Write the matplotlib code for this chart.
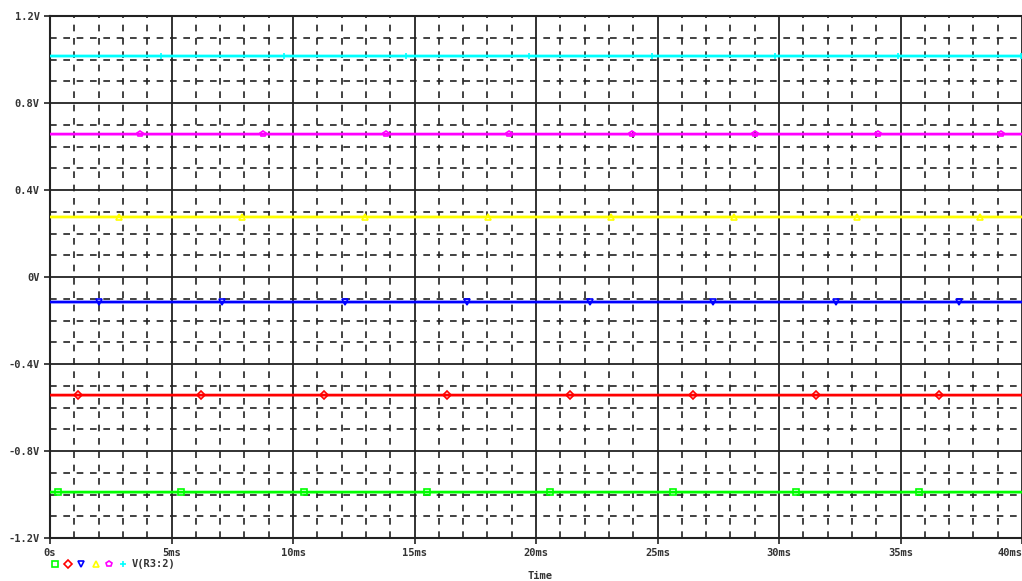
import matplotlib.pyplot as plt
import numpy as np
from matplotlib.ticker import MultipleLocator, FuncFormatter

# node voltages (V), constant over the run
colors = ['#00ff00', '#ff0000', '#0000ff', '#ffff00', '#ff00ff', '#00ffff']
markers = ['s', 'D', 'v', '^', 'p', '+']
levels = [-0.989, -0.543, -0.115, 0.276, 0.657, 1.016]
# first marker time (ms) for each trace, then every marker_step ms
marker_start = [0.33, 1.17, 2.0, 2.85, 3.7, 4.55]
marker_step = 5.06
t_end = 40

t_ms = np.linspace(0, t_end, 4001)

fig = plt.figure(figsize=(10.22, 5.81), dpi=100)
ax = fig.add_axes([50 / 1022, 43 / 581, 972 / 1022, 522 / 581])

for c, m, v, s in zip(colors, markers, levels, marker_start):
    ax.plot(t_ms, np.full_like(t_ms, v), color=c, lw=2, zorder=3)
    mt = np.arange(s, t_end, marker_step)
    ax.plot(mt, np.full_like(mt, v), ls='none', marker=m, ms=4, mfc='none',
            mec=c, mew=1.2, zorder=4)

ax.set_xlim(0, t_end)
ax.set_ylim(-1.2, 1.2)
ax.xaxis.set_major_locator(MultipleLocator(5))
ax.xaxis.set_minor_locator(MultipleLocator(1))
ax.yaxis.set_major_locator(MultipleLocator(0.4))
ax.yaxis.set_minor_locator(MultipleLocator(0.1))

def vfmt(v, pos):
    v = round(v, 1)
    if v == 0:
        return '0V'
    return '%.1fV' % v

def tfmt(v, pos):
    v = int(round(v))
    if v == 0:
        return '0s'
    if v == t_end:
        return ''  # drawn separately, right aligned
    return '%dms' % v

lab_font = dict(family='DejaVu Sans Mono', fontweight='bold', fontsize=7.5, color='#333333')

ax.yaxis.set_major_formatter(FuncFormatter(vfmt))
ax.xaxis.set_major_formatter(FuncFormatter(tfmt))
ax.tick_params(which='major', length=4, width=1.2, labelsize=7.5, color='#222222',
               labelcolor='#333333')
ax.tick_params(which='minor', length=0)
for lab in ax.get_xticklabels() + ax.get_yticklabels():
    lab.set_family('DejaVu Sans Mono')
    lab.set_fontweight('bold')
ax.text(1.0, -0.0199, '%dms' % t_end, transform=ax.transAxes, ha='right', va='top', **lab_font)

ax.grid(which='major', color='#222222', lw=1.3, ls='-', zorder=1)
ax.grid(which='minor', color='#222222', lw=1.2, ls=(0, (4, 4)), zorder=1)
for sp in ax.spines.values():
    sp.set_color('#222222')
    sp.set_linewidth(1.5)
ax.spines['right'].set_visible(False)

fig.text(540 / 1022, 1 - 576 / 581, 'Time', ha='center', va='center', **lab_font)

# legend row under the axis
lx = [55, 68, 81, 96, 109, 123]
for x, c, m in zip(lx, colors, markers):
    fig.lines.append(plt.Line2D([x / 1022], [1 - 564 / 581], transform=fig.transFigure,
                                ls='none', marker=m, ms=4, mfc='none', mec=c, mew=1.2))
fig.text(132 / 1022, 1 - 564 / 581, 'V(R3:2)', va='center', **lab_font)

fig.savefig('out.png', dpi=100)
